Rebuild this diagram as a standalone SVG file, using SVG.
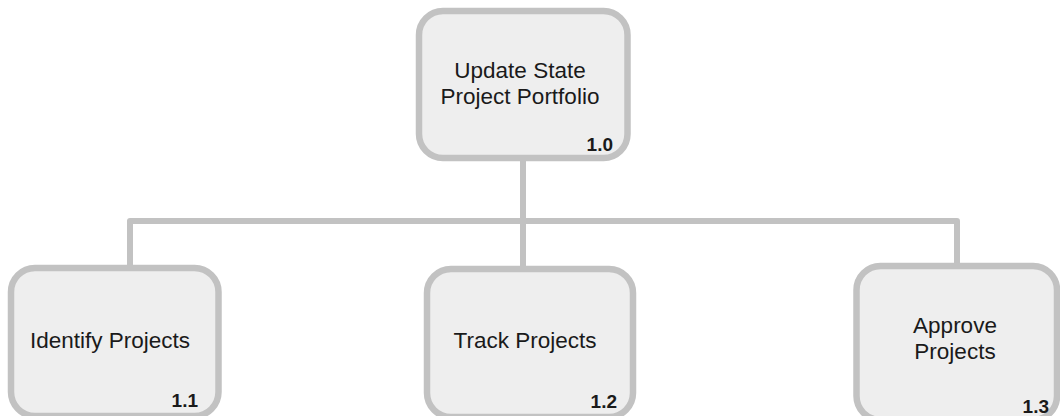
<svg xmlns="http://www.w3.org/2000/svg" width="1060" height="416" viewBox="0 0 1060 416">
  <style>
    .box { fill: #eeeeee; stroke: #c2c2c2; stroke-width: 6.5; }
    .wire { fill: none; stroke: #c2c2c2; stroke-width: 6; stroke-linejoin: round; }
    .label { font-family: "Liberation Sans", Arial, sans-serif; font-size: 22.5px; fill: #1a1a1a; text-anchor: middle; }
    .num { font-family: "Liberation Sans", Arial, sans-serif; font-size: 19px; font-weight: bold; fill: #1a1a1a; text-anchor: end; }
  </style>
  <rect width="1060" height="416" fill="#ffffff"/>

  <!-- tree connectors -->
  <g id="connectors">
    <path class="wire" d="M523 158 V221"/>
    <path class="wire" d="M130 268 V221 H957 V266"/>
    <path class="wire" d="M523 221 V269"/>
  </g>

  <!-- root process -->
  <g id="node-1-0">
    <rect class="box" x="419" y="11" width="208.5" height="147" rx="24" ry="24"/>
    <text class="label" x="520" y="78">Update State</text>
    <text class="label" x="520" y="104">Project Portfolio</text>
    <text class="num" x="613" y="151">1.0</text>
  </g>

  <g id="node-1-1">
    <rect class="box" x="11" y="268" width="207.5" height="148" rx="24" ry="24"/>
    <text class="label" x="110" y="348">Identify Projects</text>
    <text class="num" x="198" y="407">1.1</text>
  </g>

  <g id="node-1-2">
    <rect class="box" x="427" y="269" width="206" height="148" rx="24" ry="24"/>
    <text class="label" x="525" y="348">Track Projects</text>
    <text class="num" x="617" y="408">1.2</text>
  </g>

  <g id="node-1-3">
    <rect class="box" x="856.5" y="266" width="200.5" height="154" rx="24" ry="24"/>
    <text class="label" x="955" y="333">Approve</text>
    <text class="label" x="955" y="359">Projects</text>
    <text class="num" x="1049" y="413">1.3</text>
  </g>
</svg>
